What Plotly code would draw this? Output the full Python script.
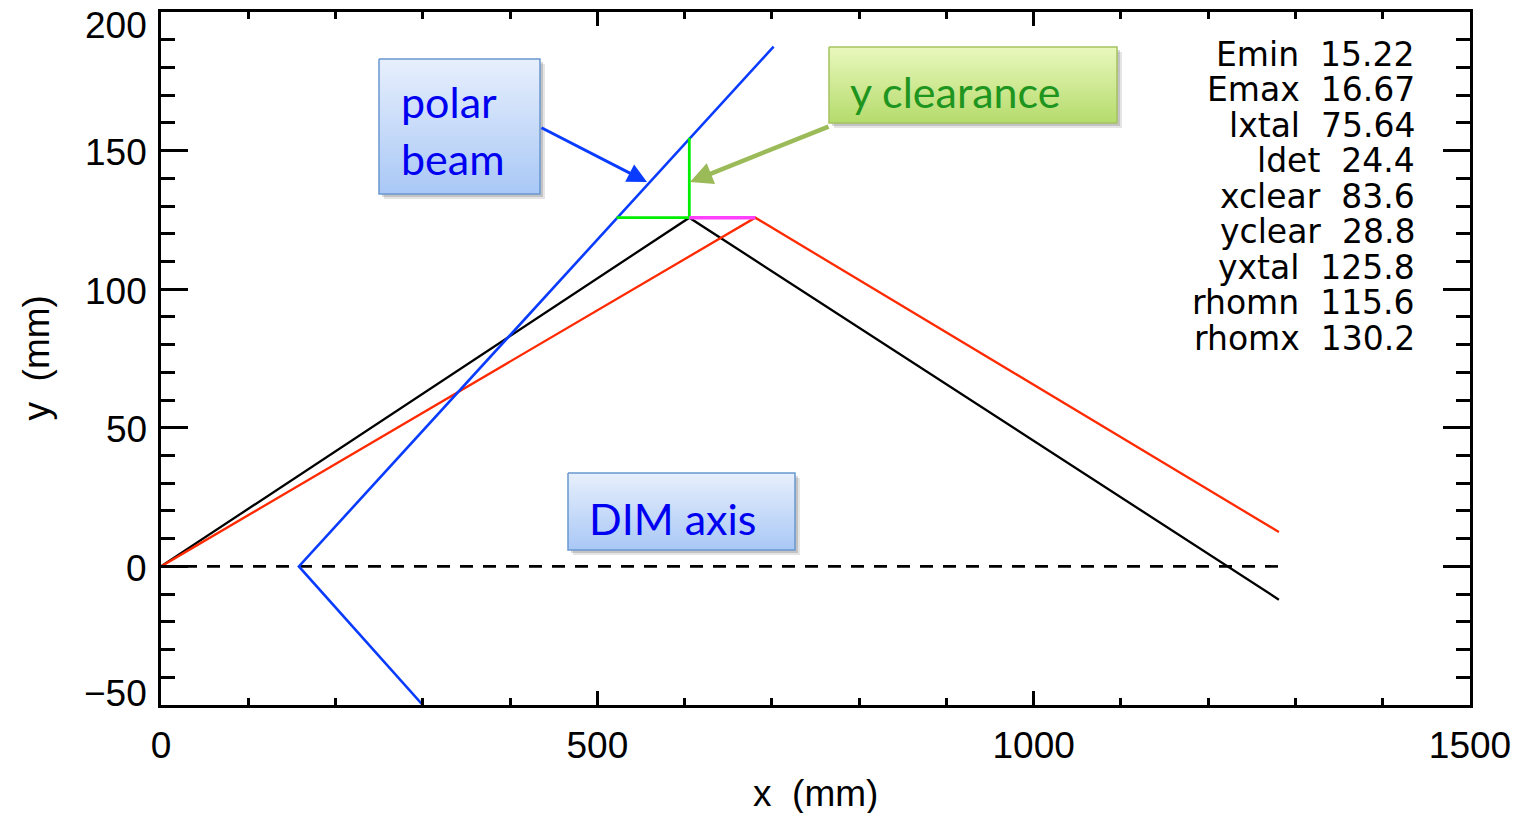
import plotly.graph_objects as go

# ---------------- data ----------------
black_x = [0, 605.4, 1281]
black_y = [0, 125.8, -12.0]
red_x = [0, 681.0, 1281]
red_y = [0, 125.8, 12.4]
blue_x = [300, 158, 702]
blue_y = [-50, 0, 187.5]
green_x = [522, 605.4, 605.4]
green_y = [125.8, 125.8, 154.6]
magenta_x = [605.4, 681.0]
magenta_y = [125.8, 125.8]
dim_x = [0, 1280]
dim_y = [0, 0]

x_ticks = [0, 500, 1000, 1500]
y_ticks = [-50, 0, 50, 100, 150, 200]

stat_names = ["Emin", "Emax", "lxtal", "ldet", "xclear", "yclear", "yxtal", "rhomn", "rhomx"]
stat_values = ["15.22", "16.67", "75.64", "24.4", "83.6", "28.8", "125.8", "115.6", "130.2"]

W, H = 1524, 813
PL, PR, PT, PB = 161, 1470, 12, 705  # plot box in pixels

fig = go.Figure()

# ---------------- callout boxes (pixel overlay axes) ----------------
def box(x0, y0, x1, y1, top, bottom, border):
    # soft shadow
    for off, a in [(5, 0.10), (3, 0.15)]:
        fig.add_trace(go.Scatter(
            x=[x0 + off, x1 + off, x1 + off, x0 + off, x0 + off],
            y=[y0 + off, y0 + off, y1 + off, y1 + off, y0 + off],
            mode="lines", fill="toself", fillcolor=f"rgba(0,0,0,{a})",
            line=dict(width=0), xaxis="x2", yaxis="y2", hoverinfo="skip"))
    fig.add_trace(go.Scatter(
        x=[x0, x1, x1, x0, x0], y=[y0, y0, y1, y1, y0],
        mode="lines", fill="toself",
        fillgradient=dict(type="vertical", start=y0, stop=y1,
                          colorscale=[[0, top], [1, bottom]]),
        line=dict(color=border, width=1.5), xaxis="x2", yaxis="y2", hoverinfo="skip"))

box(379, 59, 540, 194, "#e7effc", "#a9c8f6", "#6a98d0")
box(829, 47, 1117, 123, "#e9f8bd", "#b5db6c", "#a4c260")
box(568, 473, 795, 550, "#e7effc", "#a9c8f6", "#6a98d0")

# ---------------- data lines ----------------
fig.add_trace(go.Scatter(x=black_x, y=black_y, mode="lines", line=dict(color="black", width=2.3)))
fig.add_trace(go.Scatter(x=red_x, y=red_y, mode="lines", line=dict(color="#ff2a00", width=2.3)))
fig.add_trace(go.Scatter(x=dim_x, y=dim_y, mode="lines", line=dict(color="black", width=2.6, dash="13px,10px")))
fig.add_trace(go.Scatter(x=blue_x, y=blue_y, mode="lines", line=dict(color="#0a3cff", width=2.6)))
fig.add_trace(go.Scatter(x=green_x, y=green_y, mode="lines", line=dict(color="#00ee00", width=2.8)))
fig.add_trace(go.Scatter(x=magenta_x, y=magenta_y, mode="lines", line=dict(color="#ff40ff", width=3.5)))

ann = []
# y tick labels (IDL-style: end labels pulled inside the box)
for v in y_ticks:
    shift = -2
    if v == y_ticks[-1]:
        shift = -13
    elif v == y_ticks[0]:
        shift = 12
    ann.append(dict(xref="x domain", x=0, yref="y", y=v, text=str(v).replace("-", "\u2212"),
                    showarrow=False, xanchor="right", yanchor="middle", xshift=-12, yshift=shift,
                    font=dict(family="Liberation Sans", size=37, color="black")))

# axis titles
ann.append(dict(xref="x2", yref="y2", x=(PL + PR) / 2, y=793, text="x  (mm)", showarrow=False,
                xanchor="center", yanchor="middle",
                font=dict(family="Liberation Sans", size=37, color="black")))
ann.append(dict(xref="x2", yref="y2", x=36, y=(PT + PB) / 2, text="y  (mm)", showarrow=False,
                textangle=-90, xanchor="center", yanchor="middle",
                font=dict(family="Liberation Sans", size=37, color="black")))

# statistics panel
for i, (n, v) in enumerate(zip(stat_names, stat_values)):
    ann.append(dict(xref="x2", yref="y2", x=1417, y=54 + i * 35.5, text=f"{n}  {v}",
                    showarrow=False, xanchor="right", yanchor="middle",
                    font=dict(family="DejaVu Sans", size=33, color="black")))

# callout texts
callfont_b = dict(family="Lato", size=43, color="#0000f0")
ann.append(dict(xref="x2", yref="y2", x=399, y=101, text="polar", showarrow=False,
                xanchor="left", yanchor="middle", font=callfont_b))
ann.append(dict(xref="x2", yref="y2", x=399, y=158, text="beam", showarrow=False,
                xanchor="left", yanchor="middle", font=callfont_b))
ann.append(dict(xref="x2", yref="y2", x=848, y=91, text="y clearance", showarrow=False,
                xanchor="left", yanchor="middle", font=dict(family="Lato", size=43, color="#1e951e")))
ann.append(dict(xref="x2", yref="y2", x=587, y=518, text="DIM axis", showarrow=False,
                xanchor="left", yanchor="middle", font=callfont_b))

# arrows
ann.append(dict(xref="x2", yref="y2", axref="x2", ayref="y2", x=647, y=182, ax=540, ay=127,
                text="", showarrow=True, arrowhead=2, arrowsize=1.3, arrowwidth=3, arrowcolor="#0a3cff"))
ann.append(dict(xref="x2", yref="y2", axref="x2", ayref="y2", x=690, y=182, ax=830, ay=126,
                text="", showarrow=True, arrowhead=2, arrowsize=1.0, arrowwidth=4.5, arrowcolor="#9bbb59"))

axis_common = dict(showline=True, linewidth=2.5, linecolor="black", mirror="allticks",
                   ticks="inside", tickwidth=2.5, tickcolor="black", showgrid=False, zeroline=False,
                   automargin=False)

fig.update_layout(
    template="none",
    width=W, height=H, autosize=False,
    margin=dict(l=0, r=0, t=0, b=0, pad=0, autoexpand=False),
    paper_bgcolor="white", plot_bgcolor="rgba(0,0,0,0)",
    showlegend=False,
    xaxis=dict(domain=[PL / W, PR / W], range=[0, 1500], tickvals=x_ticks, ticklen=14,
               tickfont=dict(family="Liberation Sans", size=37, color="black"),
               ticklabelstandoff=6,
               minor=dict(dtick=100, ticks="inside", ticklen=7, tickwidth=2.5, tickcolor="black", showgrid=False),
               anchor="y", **axis_common),
    yaxis=dict(domain=[(H - PB) / H, (H - PT) / H], range=[-50, 200], tickvals=y_ticks, ticklen=27,
               showticklabels=False,
               minor=dict(dtick=10, ticks="inside", ticklen=14, tickwidth=2.5, tickcolor="black", showgrid=False),
               anchor="x", **axis_common),
    xaxis2=dict(domain=[0, 1], range=[0, W], visible=False, anchor="y2", fixedrange=True, automargin=False),
    yaxis2=dict(domain=[0, 1], range=[H, 0], visible=False, anchor="x2", fixedrange=True, automargin=False),
    annotations=ann,
)

fig.write_html("out.html", config={"responsive": False})
